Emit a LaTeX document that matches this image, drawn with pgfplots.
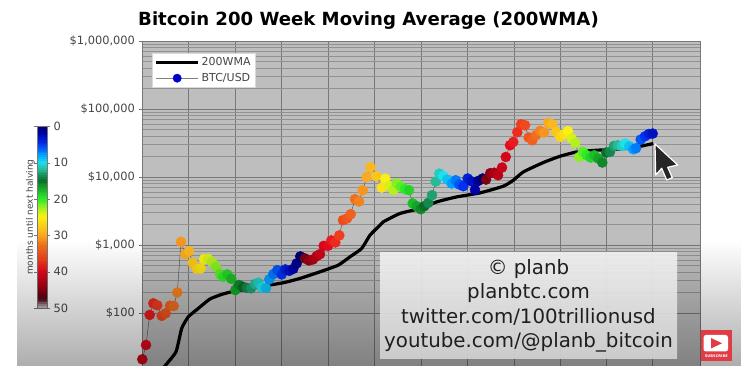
\documentclass[border=0pt]{standalone}
\usepackage{fontspec}
\setmainfont{DejaVu Sans}
\usepackage{pgfplots}
\usepackage{pgfplotstable}
\pgfplotsset{compat=1.18}
\usetikzlibrary{fadings}
\definecolor{tickgray}{RGB}{70,70,70}
\definecolor{plotgray}{RGB}{190,190,190}
\definecolor{gridgray}{RGB}{120,120,120}
\definecolor{minorgray}{RGB}{145,145,145}
\definecolor{ytred}{RGB}{225,60,70}
\tikzfading[name=bottomdark, top color=transparent!100, bottom color=transparent!68]
\pgfplotsset{colormap={halving}{rgb255(0cm)=(0,0,110); rgb255(2cm)=(0,0,170); rgb255(5cm)=(0,50,240); rgb255(8cm)=(0,160,255); rgb255(10cm)=(30,225,235); rgb255(12cm)=(40,185,150); rgb255(15cm)=(10,110,40); rgb255(17cm)=(20,165,40); rgb255(20cm)=(45,235,40); rgb255(23cm)=(180,240,30); rgb255(25cm)=(250,240,20); rgb255(30cm)=(250,170,30); rgb255(33cm)=(240,110,30); rgb255(37cm)=(240,60,30); rgb255(40cm)=(230,10,30); rgb255(44cm)=(170,0,20); rgb255(47cm)=(100,0,20); rgb255(48cm)=(90,30,40); rgb255(50cm)=(200,200,200)}}
\pgfplotstableread{
x y m
142.3 20.9 41
146 33.9 40
149.7 94 39
153.3 139 38
157.3 130 37
161.7 91 36
165.7 99 35
170 128 34
173.7 127 33
177.3 201 32
181 1114 31
185.3 735 30
189 813 29
192.7 548 28
196.7 447 27
200.7 453 26
204 621 25
208 627 24
212 566 23
216 479 22
220 374 21
223.3 341 20
227.3 370 19
231.3 319 18
235.3 218 17
239 258 16
243 243 15
247 235 14
251 231 13
255 267 12
258.3 279 11
261.7 238 10
266 233 9
269.3 313 8
273.3 374 7
277.3 428 6
281.7 370 5
285.3 438 4
289.3 418 3
293.3 447 2
296.7 537 1
300.3 680 0
305 635 46
309 594 45
313 615 44
316.7 687 43
320 735 42
323.7 973 41
328 973 40
331.3 1169 39
335.3 1092 38
339.3 1384 37
343 2321 36
347 2458 35
350.7 2843 34
355 4721 33
359 4365 32
362.7 6397 31
366.7 10030 30
370.4 13930 29
376.4 10280 28
381.7 6966 26
385.3 9441 25
389.5 7447 24
393.3 6397 23
396.7 8035 22
400.8 7211 21
405 6622 20
409 6397 19
412.7 4083 18
416.7 3724 17
420.7 3365 16
424.3 3724 15
428.3 4165 14
432 5408 13
435.7 8590 12
439.3 11250 11
443.3 10280 10
447.3 9183 9
451.7 8035 8
455.7 8970 7
459.3 7762 6
463.3 7328 5
467.7 9506 4
471.3 8670 3
475 6471 2
478.3 8770 1
482.7 9506 0
486 9183 46
490.2 11380 45
494.2 11560 44
498 10620 43
502 13770 42
505.8 19720 41
510 29310 40
513.3 32730 39
517.3 45500 38
521 59570 37
525 57680 36
528.7 38020 35
532.3 34670 34
536 41110 33
540 47530 32
544 44980 31
548.3 62230 30
552.3 59570 29
556 45920 28
560.3 38810 27
564 42460 26
568 47100 25
571.7 36730 24
575.3 31700 23
579.3 19720 22
583 23390 21
586.7 20890 20
590.7 19320 19
594.3 20890 18
598.3 18710 17
602.3 16330 16
606.3 22910 15
610 23390 14
614 28640 13
617.7 29310 12
621.7 28640 11
625 31050 10
629.3 28310 9
633.3 25590 8
636 26490 7
640.7 35560 6
645 39720 5
649 42950 4
652.7 43550 3
}\btc
\pgfplotstableread{
x y
160 13.5
165 16.7
176 27
181.7 59.6
188.3 88
198.3 117
210 161
221.7 188
235 212
250 227
263.3 249
283.3 279
300 323
320 404
338.3 507
350 671
361.7 891
370 1397
380 1960
383.3 2192
400 2911
420 3447
436.7 4309
456.7 5102
480 5845
503.3 7328
513.3 8970
523.3 11880
543.3 16330
560 20190
576.7 23390
596.7 24770
616.7 25590
636.7 27670
653.3 31050
}\wma
\begin{document}
\begin{tikzpicture}[x=1pt,y=1pt]
\useasboundingbox (0,0) rectangle (750,366);
\fill[white] (0,0) rectangle (750,366);
\begin{axis}[
  at={(142pt,0pt)}, anchor=south west,
  scale only axis, width=558pt, height=325pt,
  xmin=142, xmax=700,
  ymode=log, ymin=16.66, ymax=1000000,
  xtick={142,188.5,235,281,328,374.5,421,467.5,514,560,606.5,652.5},
  xticklabels={},
  ytick={100,1000,10000,100000,1000000},
  yticklabels={\$100,{\$1,000},{\$10,000},{\$100,000},{\$1,000,000}},
  ytick pos=left, xtick pos=bottom,
  tick label style={font=\fontsize{11.4}{13}\selectfont, text=tickgray},
  tick align=outside, major tick length=3.5pt, minor tick length=0pt,
  tick style={gridgray, line width=0.8pt},
  ymajorgrids, yminorgrids, xmajorgrids,
  major grid style={gridgray, line width=0.9pt},
  minor grid style={minorgray, line width=0.7pt},
  axis line style={gridgray, line width=0.9pt},
  axis background/.style={fill=plotgray},
  clip=true,
  colormap name=halving,
  point meta min=0, point meta max=50,
  colorbar sampled,
  colorbar style={
    samples=101,
    at={(-0.1882,0.737)}, anchor=north west,
    scale only axis, width=10pt, height=181.5pt,
    y dir=reverse,
    ytick={0,10,20,30,40,50},
    yticklabel pos=right,
    ylabel={months until next halving},
    every axis y label/.style={at={(axis description cs:-0.65,0.5)}, rotate=90, anchor=center},
    ylabel style={font=\fontsize{9}{10}\selectfont, text=tickgray},
    tick label style={font=\fontsize{11.4}{13}\selectfont, text=tickgray, /pgf/number format/assume math mode=true},
    tick align=outside, major tick length=3pt,
    tick style={gridgray},
    axis line style={gridgray},
  },
  legend style={at={(0.0179,0.9631)}, anchor=north west, draw=white!85!black, fill=white,
    font=\fontsize{11}{13}\selectfont, text=tickgray, inner sep=2.5pt, row sep=2pt,
    cells={anchor=west}},
]
\addlegendimage{legend image code/.code={\draw[black,line width=3pt] (0pt,0pt)--(42pt,0pt);}}
\addlegendentry{200WMA}
\addlegendimage{legend image code/.code={\draw[gray,line width=0.5pt] (0pt,0pt)--(42pt,0pt);\fill[blue!80!black] (21pt,0pt) circle (4.2pt);}}
\addlegendentry{BTC/USD}
\addplot[black, line width=3.2pt, smooth, tension=0.3, forget plot] table[x=x,y=y] {\wma};
\addplot[scatter, scatter src=explicit, gray!70!black, line width=0.5pt, mark=*, mark size=5pt,
  scatter/use mapped color={draw=mapped color, fill=mapped color}, forget plot] table[x=x,y=y,meta=m] {\btc};
\end{axis}
\fill[black, path fading=bottomdark] (17,0) rectangle (741,126);
\node[top color=white!94!black, bottom color=white!82!black, fill opacity=0.92, text opacity=1, text=black!88, minimum width=297pt, minimum height=106pt, inner sep=0pt, align=center, font=\fontsize{19.8}{24.5}\selectfont] at (528.5,60) {\raisebox{0pt}{© planb}\\planbtc.com\\twitter.com/100trillionusd\\youtube.com/@planb\_bitcoin};
\node[font=\bfseries\fontsize{18.1}{20}\selectfont, text=black, anchor=center] at (368.5,345) {Bitcoin 200 Week Moving Average (200WMA)};
\fill[black!85, draw=white, line width=1.2pt, line join=round] (655,222) -- (655.7,191) -- (661.7,197.7) -- (666.7,186) -- (672.3,188.3) -- (667.7,198.7) -- (677.7,201) -- cycle;
\fill[ytred] (700.7,5) rectangle (732,36);
\fill[white, rounded corners=2.5pt] (703.5,14.5) rectangle (728,31);
\fill[ytred] (711,17.5) -- (711,28) -- (722,22.7) -- cycle;
\node[font=\bfseries\fontsize{3.6}{4}\selectfont, text=white] at (716.3,9.7) {SUBSCRIBE};
\end{tikzpicture}
\end{document}
